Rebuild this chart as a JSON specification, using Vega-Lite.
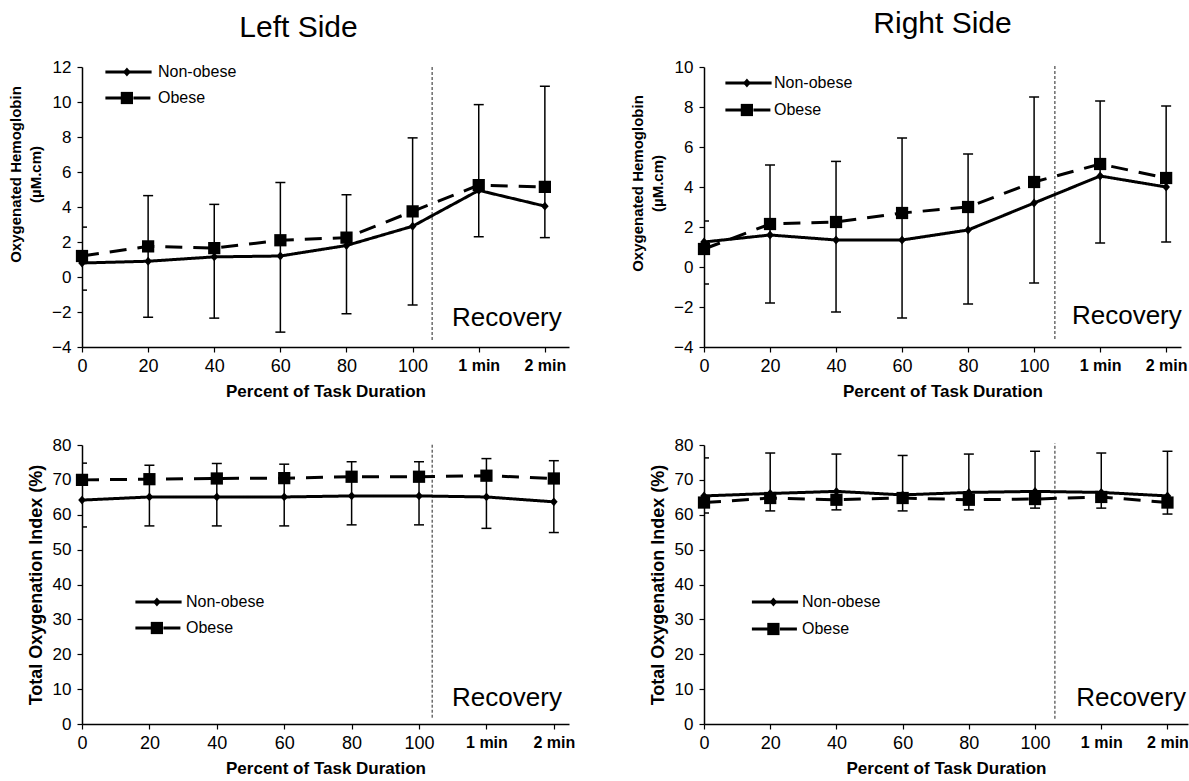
{
  "$schema": "https://vega.github.io/schema/vega-lite/v6.json",
  "padding": {"left": 8, "top": 9, "right": 0, "bottom": 0},
  "background": "white",
  "config": {
    "font": "Liberation Sans",
    "view": {"stroke": null},
    "axis": {"grid": false, "domainColor": "black", "tickColor": "black", "labelColor": "black", "titleColor": "black", "domainWidth": 1.5, "tickWidth": 1.2, "tickSize": 5},
    "legend": {"labelColor": "black"}
  },
  "datasets": {
    "means": [
      {"panel": "TL", "group": "Non-obese", "x": 0, "value": 0.8},
      {"panel": "TL", "group": "Non-obese", "x": 20, "value": 0.9},
      {"panel": "TL", "group": "Non-obese", "x": 40, "value": 1.15},
      {"panel": "TL", "group": "Non-obese", "x": 60, "value": 1.2},
      {"panel": "TL", "group": "Non-obese", "x": 80, "value": 1.8},
      {"panel": "TL", "group": "Non-obese", "x": 100, "value": 2.9},
      {"panel": "TL", "group": "Non-obese", "x": 120, "value": 4.95},
      {"panel": "TL", "group": "Non-obese", "x": 140, "value": 4.05},
      {"panel": "TL", "group": "Obese", "x": 0, "value": 1.2},
      {"panel": "TL", "group": "Obese", "x": 20, "value": 1.75},
      {"panel": "TL", "group": "Obese", "x": 40, "value": 1.65},
      {"panel": "TL", "group": "Obese", "x": 60, "value": 2.1},
      {"panel": "TL", "group": "Obese", "x": 80, "value": 2.25},
      {"panel": "TL", "group": "Obese", "x": 100, "value": 3.75},
      {"panel": "TL", "group": "Obese", "x": 120, "value": 5.25},
      {"panel": "TL", "group": "Obese", "x": 140, "value": 5.15},
      {"panel": "TR", "group": "Non-obese", "x": 0, "value": 1.25},
      {"panel": "TR", "group": "Non-obese", "x": 20, "value": 1.6},
      {"panel": "TR", "group": "Non-obese", "x": 40, "value": 1.35},
      {"panel": "TR", "group": "Non-obese", "x": 60, "value": 1.35},
      {"panel": "TR", "group": "Non-obese", "x": 80, "value": 1.85},
      {"panel": "TR", "group": "Non-obese", "x": 100, "value": 3.2},
      {"panel": "TR", "group": "Non-obese", "x": 120, "value": 4.55},
      {"panel": "TR", "group": "Non-obese", "x": 140, "value": 4.0},
      {"panel": "TR", "group": "Obese", "x": 0, "value": 0.9},
      {"panel": "TR", "group": "Obese", "x": 20, "value": 2.15},
      {"panel": "TR", "group": "Obese", "x": 40, "value": 2.25},
      {"panel": "TR", "group": "Obese", "x": 60, "value": 2.7},
      {"panel": "TR", "group": "Obese", "x": 80, "value": 3.0},
      {"panel": "TR", "group": "Obese", "x": 100, "value": 4.25},
      {"panel": "TR", "group": "Obese", "x": 120, "value": 5.15},
      {"panel": "TR", "group": "Obese", "x": 140, "value": 4.45},
      {"panel": "BL", "group": "Non-obese", "x": 0, "value": 64.2},
      {"panel": "BL", "group": "Non-obese", "x": 20, "value": 65.1},
      {"panel": "BL", "group": "Non-obese", "x": 40, "value": 65.1},
      {"panel": "BL", "group": "Non-obese", "x": 60, "value": 65.1},
      {"panel": "BL", "group": "Non-obese", "x": 80, "value": 65.4},
      {"panel": "BL", "group": "Non-obese", "x": 100, "value": 65.4},
      {"panel": "BL", "group": "Non-obese", "x": 120, "value": 65.1},
      {"panel": "BL", "group": "Non-obese", "x": 140, "value": 63.7},
      {"panel": "BL", "group": "Obese", "x": 0, "value": 70.0},
      {"panel": "BL", "group": "Obese", "x": 20, "value": 70.2},
      {"panel": "BL", "group": "Obese", "x": 40, "value": 70.4},
      {"panel": "BL", "group": "Obese", "x": 60, "value": 70.5},
      {"panel": "BL", "group": "Obese", "x": 80, "value": 70.9},
      {"panel": "BL", "group": "Obese", "x": 100, "value": 70.9},
      {"panel": "BL", "group": "Obese", "x": 120, "value": 71.2},
      {"panel": "BL", "group": "Obese", "x": 140, "value": 70.4},
      {"panel": "BR", "group": "Non-obese", "x": 0, "value": 65.4},
      {"panel": "BR", "group": "Non-obese", "x": 20, "value": 66.1},
      {"panel": "BR", "group": "Non-obese", "x": 40, "value": 66.7},
      {"panel": "BR", "group": "Non-obese", "x": 60, "value": 65.7},
      {"panel": "BR", "group": "Non-obese", "x": 80, "value": 66.4},
      {"panel": "BR", "group": "Non-obese", "x": 100, "value": 66.7},
      {"panel": "BR", "group": "Non-obese", "x": 120, "value": 66.4},
      {"panel": "BR", "group": "Non-obese", "x": 140, "value": 65.4},
      {"panel": "BR", "group": "Obese", "x": 0, "value": 63.5},
      {"panel": "BR", "group": "Obese", "x": 20, "value": 64.8},
      {"panel": "BR", "group": "Obese", "x": 40, "value": 64.3},
      {"panel": "BR", "group": "Obese", "x": 60, "value": 64.8},
      {"panel": "BR", "group": "Obese", "x": 80, "value": 64.3},
      {"panel": "BR", "group": "Obese", "x": 100, "value": 64.5},
      {"panel": "BR", "group": "Obese", "x": 120, "value": 65.1},
      {"panel": "BR", "group": "Obese", "x": 140, "value": 63.5}
    ],
    "errs": [
      {"panel": "TL", "x": 0, "value": -0.75}, {"panel": "TL", "x": 0, "value": 2.85},
      {"panel": "TL", "x": 20, "value": -2.3}, {"panel": "TL", "x": 20, "value": 4.65},
      {"panel": "TL", "x": 40, "value": -2.35}, {"panel": "TL", "x": 40, "value": 4.15},
      {"panel": "TL", "x": 60, "value": -3.15}, {"panel": "TL", "x": 60, "value": 5.4},
      {"panel": "TL", "x": 80, "value": -2.1}, {"panel": "TL", "x": 80, "value": 4.7},
      {"panel": "TL", "x": 100, "value": -1.6}, {"panel": "TL", "x": 100, "value": 7.95},
      {"panel": "TL", "x": 120, "value": 2.3}, {"panel": "TL", "x": 120, "value": 9.85},
      {"panel": "TL", "x": 140, "value": 2.25}, {"panel": "TL", "x": 140, "value": 10.9},
      {"panel": "TR", "x": 0, "value": -0.85}, {"panel": "TR", "x": 0, "value": 2.3},
      {"panel": "TR", "x": 20, "value": -1.8}, {"panel": "TR", "x": 20, "value": 5.1},
      {"panel": "TR", "x": 40, "value": -2.25}, {"panel": "TR", "x": 40, "value": 5.28},
      {"panel": "TR", "x": 60, "value": -2.55}, {"panel": "TR", "x": 60, "value": 6.45},
      {"panel": "TR", "x": 80, "value": -1.85}, {"panel": "TR", "x": 80, "value": 5.65},
      {"panel": "TR", "x": 100, "value": -0.8}, {"panel": "TR", "x": 100, "value": 8.5},
      {"panel": "TR", "x": 120, "value": 1.2}, {"panel": "TR", "x": 120, "value": 8.3},
      {"panel": "TR", "x": 140, "value": 1.25}, {"panel": "TR", "x": 140, "value": 8.05},
      {"panel": "BL", "x": 0, "value": 56.5}, {"panel": "BL", "x": 0, "value": 74.8},
      {"panel": "BL", "x": 20, "value": 56.8}, {"panel": "BL", "x": 20, "value": 74.2},
      {"panel": "BL", "x": 40, "value": 56.8}, {"panel": "BL", "x": 40, "value": 74.7},
      {"panel": "BL", "x": 60, "value": 56.8}, {"panel": "BL", "x": 60, "value": 74.5},
      {"panel": "BL", "x": 80, "value": 57.1}, {"panel": "BL", "x": 80, "value": 75.2},
      {"panel": "BL", "x": 100, "value": 57.1}, {"panel": "BL", "x": 100, "value": 75.2},
      {"panel": "BL", "x": 120, "value": 56.1}, {"panel": "BL", "x": 120, "value": 76.1},
      {"panel": "BL", "x": 140, "value": 54.9}, {"panel": "BL", "x": 140, "value": 75.5},
      {"panel": "BR", "x": 0, "value": 60.5}, {"panel": "BR", "x": 0, "value": 76.3},
      {"panel": "BR", "x": 20, "value": 61.1}, {"panel": "BR", "x": 20, "value": 77.7},
      {"panel": "BR", "x": 40, "value": 61.4}, {"panel": "BR", "x": 40, "value": 77.4},
      {"panel": "BR", "x": 60, "value": 61.1}, {"panel": "BR", "x": 60, "value": 77.0},
      {"panel": "BR", "x": 80, "value": 61.4}, {"panel": "BR", "x": 80, "value": 77.4},
      {"panel": "BR", "x": 100, "value": 61.9}, {"panel": "BR", "x": 100, "value": 78.2},
      {"panel": "BR", "x": 120, "value": 61.9}, {"panel": "BR", "x": 120, "value": 77.7},
      {"panel": "BR", "x": 140, "value": 60.2}, {"panel": "BR", "x": 140, "value": 78.2}
    ],
    "seps": [
      {"panel": "TL", "x": 105.9, "value": -3.6}, {"panel": "TL", "x": 105.9, "value": 12.1},
      {"panel": "TR", "x": 106.3, "value": -3.6}, {"panel": "TR", "x": 106.3, "value": 10.1},
      {"panel": "BL", "x": 103.9, "value": 1.8}, {"panel": "BL", "x": 103.9, "value": 80.5},
      {"panel": "BR", "x": 106.0, "value": 1.5}, {"panel": "BR", "x": 106.0, "value": 80.5}
    ],
    "notes": [
      {"panel": "TL", "x": 128.5, "value": -2.35, "label": "Recovery"},
      {"panel": "TR", "x": 128.1, "value": -2.44, "label": "Recovery"},
      {"panel": "BL", "x": 126.1, "value": 7.5, "label": "Recovery"},
      {"panel": "BR", "x": 129.0, "value": 7.5, "label": "Recovery"}
    ]
  },
  "resolve": {"scale": {"shape": "independent", "strokeDash": "independent"}, "legend": {"shape": "independent", "strokeDash": "independent"}},
  "spacing": 37,
  "vconcat": [
    {
      "resolve": {"scale": {"shape": "independent", "strokeDash": "independent"}, "legend": {"shape": "independent", "strokeDash": "independent"}},
      "spacing": 61,
      "hconcat": [
        {
          "width": 487, "height": 280,
          "title": {"text": "Left Side", "fontSize": 30, "fontWeight": "normal", "color": "black", "dx": -27, "offset": -9, "baseline": "alphabetic"},
          "encoding": {
            "x": {"field": "x", "type": "quantitative", "scale": {"domain": [0, 147.3], "nice": false, "zero": false},
                  "axis": {"values": [0, 20, 40, 60, 80, 100, 120, 140], "title": "Percent of Task Duration", "titleFontWeight": "bold", "titleFontSize": 17, "titlePadding": 8,
                           "labelExpr": "datum.value == 120 ? '1 min' : datum.value == 140 ? '2 min' : datum.label",
                           "labelFontWeight": {"condition": {"test": "datum.value > 100", "value": "bold"}, "value": "normal"},
                           "labelFontSize": {"condition": {"test": "datum.value > 100", "value": 16}, "value": 18},
                           "labelPadding": 5, "labelFlush": false}},
            "y": {"field": "value", "type": "quantitative", "scale": {"domain": [-4, 12], "nice": false},
                  "axis": {"values": [-4, -2, 0, 2, 4, 6, 8, 10, 12], "title": ["Oxygenated Hemoglobin", "(µM.cm)"], "titleFontWeight": "bold", "titleFontSize": 15, "titleLineHeight": 20, "titleY": 107, "titlePadding": 8, "labelFontSize": 17, "labelPadding": 6}}
          },
          "layer": [
            {"data": {"name": "seps"}, "transform": [{"filter": "datum.panel === 'TL'"}],
             "mark": {"type": "line", "strokeDash": [3, 2], "strokeWidth": 1, "color": "#222"}, "encoding": {}},
            {"data": {"name": "errs"}, "transform": [{"filter": "datum.panel === 'TL'"}],
             "mark": {"type": "line", "color": "black", "strokeWidth": 1.5, "clip": true},
             "encoding": {"detail": {"field": "x", "type": "nominal"}}},
            {"data": {"name": "errs"}, "transform": [{"filter": "datum.panel === 'TL'"}],
             "mark": {"type": "tick", "orient": "horizontal", "color": "black", "thickness": 1.5, "size": 10, "opacity": 1, "clip": true}},
            {"data": {"name": "means"}, "transform": [{"filter": "datum.panel === 'TL'"}],
             "mark": {"type": "line", "color": "black", "strokeWidth": 3},
             "encoding": {
               "strokeDash": {"field": "group", "type": "nominal", "scale": {"range": [[1, 0], [17, 11]]},
                              "legend": {"orient": "none", "legendX": 38.5, "legendY": -3, "title": null, "symbolType": "M-7.7,0L7.7,0", "symbolSize": 36, "symbolStrokeWidth": 3, "symbolStrokeColor": "black", "labelFontSize": 16, "labelOffset": 21.5, "rowPadding": 10, "padding": 0}}
             }},
            {"data": {"name": "means"}, "transform": [{"filter": "datum.panel === 'TL'"}],
             "mark": {"type": "point", "filled": true, "color": "black", "opacity": 1, "size": 150},
             "encoding": {
               "shape": {"field": "group", "type": "nominal", "scale": {"domain": ["Non-obese", "Obese"], "range": ["M0,-0.72L0.62,0L0,0.72L-0.62,0Z", "M-1,-1L1,-1L1,1L-1,1Z"]},
                         "legend": {"orient": "none", "legendX": 36.9, "legendY": -3, "title": null, "symbolSize": 150, "symbolFillColor": "black", "symbolStrokeColor": "black", "symbolStrokeWidth": 0, "symbolOpacity": 1, "labelFontSize": 16, "labelOpacity": 0, "rowPadding": 10, "padding": 0}}
             }},
            {"data": {"name": "notes"}, "transform": [{"filter": "datum.panel === 'TL'"}],
             "mark": {"type": "text", "fontSize": 26, "align": "center", "baseline": "middle", "color": "black"},
             "encoding": {"text": {"field": "label"}}}
          ]
        },
        {
          "width": 477, "height": 280,
          "title": {"text": "Right Side", "fontSize": 30, "fontWeight": "normal", "color": "black", "dx": 0, "offset": -5, "baseline": "alphabetic"},
          "encoding": {
            "x": {"field": "x", "type": "quantitative", "scale": {"domain": [0, 144.5], "nice": false, "zero": false},
                  "axis": {"values": [0, 20, 40, 60, 80, 100, 120, 140], "title": "Percent of Task Duration", "titleFontWeight": "bold", "titleFontSize": 17, "titlePadding": 8,
                           "labelExpr": "datum.value == 120 ? '1 min' : datum.value == 140 ? '2 min' : datum.label",
                           "labelFontWeight": {"condition": {"test": "datum.value > 100", "value": "bold"}, "value": "normal"},
                           "labelFontSize": {"condition": {"test": "datum.value > 100", "value": 16}, "value": 18},
                           "labelPadding": 5, "labelFlush": false}},
            "y": {"field": "value", "type": "quantitative", "scale": {"domain": [-4, 10], "nice": false},
                  "axis": {"values": [-4, -2, 0, 2, 4, 6, 8, 10], "title": ["Oxygenated Hemoglobin", "(µM.cm)"], "titleFontWeight": "bold", "titleFontSize": 15, "titleLineHeight": 20, "titleY": 116, "titlePadding": 8, "labelFontSize": 17, "labelPadding": 6}}
          },
          "layer": [
            {"data": {"name": "seps"}, "transform": [{"filter": "datum.panel === 'TR'"}],
             "mark": {"type": "line", "strokeDash": [3, 2], "strokeWidth": 1, "color": "#222"}, "encoding": {}},
            {"data": {"name": "errs"}, "transform": [{"filter": "datum.panel === 'TR'"}],
             "mark": {"type": "line", "color": "black", "strokeWidth": 1.5, "clip": true},
             "encoding": {"detail": {"field": "x", "type": "nominal"}}},
            {"data": {"name": "errs"}, "transform": [{"filter": "datum.panel === 'TR'"}],
             "mark": {"type": "tick", "orient": "horizontal", "color": "black", "thickness": 1.5, "size": 10, "opacity": 1, "clip": true}},
            {"data": {"name": "means"}, "transform": [{"filter": "datum.panel === 'TR'"}],
             "mark": {"type": "line", "color": "black", "strokeWidth": 3},
             "encoding": {
               "strokeDash": {"field": "group", "type": "nominal", "scale": {"range": [[1, 0], [17, 11]]},
                              "legend": {"orient": "none", "legendX": 36.5, "legendY": 8, "title": null, "symbolType": "M-7.7,0L7.7,0", "symbolSize": 36, "symbolStrokeWidth": 3, "symbolStrokeColor": "black", "labelFontSize": 16, "labelOffset": 17.5, "rowPadding": 11, "padding": 0}}
             }},
            {"data": {"name": "means"}, "transform": [{"filter": "datum.panel === 'TR'"}],
             "mark": {"type": "point", "filled": true, "color": "black", "opacity": 1, "size": 150},
             "encoding": {
               "shape": {"field": "group", "type": "nominal", "scale": {"domain": ["Non-obese", "Obese"], "range": ["M0,-0.72L0.62,0L0,0.72L-0.62,0Z", "M-1,-1L1,-1L1,1L-1,1Z"]},
                         "legend": {"orient": "none", "legendX": 34.9, "legendY": 8, "title": null, "symbolSize": 150, "symbolFillColor": "black", "symbolStrokeColor": "black", "symbolStrokeWidth": 0, "symbolOpacity": 1, "labelFontSize": 16, "labelOpacity": 0, "rowPadding": 11, "padding": 0}}
             }},
            {"data": {"name": "notes"}, "transform": [{"filter": "datum.panel === 'TR'"}],
             "mark": {"type": "text", "fontSize": 26, "align": "center", "baseline": "middle", "color": "black"},
             "encoding": {"text": {"field": "label"}}}
          ]
        }
      ]
    },
    {
      "resolve": {"scale": {"shape": "independent", "strokeDash": "independent"}, "legend": {"shape": "independent", "strokeDash": "independent"}},
      "spacing": 74,
      "hconcat": [
        {
          "width": 487, "height": 279,
          "encoding": {
            "x": {"field": "x", "type": "quantitative", "scale": {"domain": [0, 144.5], "nice": false, "zero": false},
                  "axis": {"values": [0, 20, 40, 60, 80, 100, 120, 140], "title": "Percent of Task Duration", "titleFontWeight": "bold", "titleFontSize": 17, "titlePadding": 8,
                           "labelExpr": "datum.value == 120 ? '1 min' : datum.value == 140 ? '2 min' : datum.label",
                           "labelFontWeight": {"condition": {"test": "datum.value > 100", "value": "bold"}, "value": "normal"},
                           "labelFontSize": {"condition": {"test": "datum.value > 100", "value": 16}, "value": 18},
                           "labelPadding": 5, "labelFlush": false}},
            "y": {"field": "value", "type": "quantitative", "scale": {"domain": [0, 80], "nice": false},
                  "axis": {"values": [0, 10, 20, 30, 40, 50, 60, 70, 80], "title": "Total Oxygenation Index (%)", "titleFontWeight": "bold", "titleFontSize": 18, "titlePadding": 7, "labelFontSize": 17, "labelPadding": 6}}
          },
          "layer": [
            {"data": {"name": "seps"}, "transform": [{"filter": "datum.panel === 'BL'"}],
             "mark": {"type": "line", "strokeDash": [3, 2], "strokeWidth": 1, "color": "#222"}, "encoding": {}},
            {"data": {"name": "errs"}, "transform": [{"filter": "datum.panel === 'BL'"}],
             "mark": {"type": "line", "color": "black", "strokeWidth": 1.5, "clip": true},
             "encoding": {"detail": {"field": "x", "type": "nominal"}}},
            {"data": {"name": "errs"}, "transform": [{"filter": "datum.panel === 'BL'"}],
             "mark": {"type": "tick", "orient": "horizontal", "color": "black", "thickness": 1.5, "size": 10, "opacity": 1, "clip": true}},
            {"data": {"name": "means"}, "transform": [{"filter": "datum.panel === 'BL'"}],
             "mark": {"type": "line", "color": "black", "strokeWidth": 3},
             "encoding": {
               "strokeDash": {"field": "group", "type": "nominal", "scale": {"range": [[1, 0], [17, 11]]},
                              "legend": {"orient": "none", "legendX": 68.5, "legendY": 149, "title": null, "symbolType": "M-7.7,0L7.7,0", "symbolSize": 36, "symbolStrokeWidth": 3, "symbolStrokeColor": "black", "labelFontSize": 16, "labelOffset": 19.5, "rowPadding": 10, "padding": 0}}
             }},
            {"data": {"name": "means"}, "transform": [{"filter": "datum.panel === 'BL'"}],
             "mark": {"type": "point", "filled": true, "color": "black", "opacity": 1, "size": 150},
             "encoding": {
               "shape": {"field": "group", "type": "nominal", "scale": {"domain": ["Non-obese", "Obese"], "range": ["M0,-0.72L0.62,0L0,0.72L-0.62,0Z", "M-1,-1L1,-1L1,1L-1,1Z"]},
                         "legend": {"orient": "none", "legendX": 66.9, "legendY": 149, "title": null, "symbolSize": 150, "symbolFillColor": "black", "symbolStrokeColor": "black", "symbolStrokeWidth": 0, "symbolOpacity": 1, "labelFontSize": 16, "labelOpacity": 0, "rowPadding": 10, "padding": 0}}
             }},
            {"data": {"name": "notes"}, "transform": [{"filter": "datum.panel === 'BL'"}],
             "mark": {"type": "text", "fontSize": 26, "align": "center", "baseline": "middle", "color": "black"},
             "encoding": {"text": {"field": "label"}}}
          ]
        },
        {
          "width": 484, "height": 279,
          "encoding": {
            "x": {"field": "x", "type": "quantitative", "scale": {"domain": [0, 146.2], "nice": false, "zero": false},
                  "axis": {"values": [0, 20, 40, 60, 80, 100, 120, 140], "title": "Percent of Task Duration", "titleFontWeight": "bold", "titleFontSize": 17, "titlePadding": 8,
                           "labelExpr": "datum.value == 120 ? '1 min' : datum.value == 140 ? '2 min' : datum.label",
                           "labelFontWeight": {"condition": {"test": "datum.value > 100", "value": "bold"}, "value": "normal"},
                           "labelFontSize": {"condition": {"test": "datum.value > 100", "value": 16}, "value": 18},
                           "labelPadding": 5, "labelFlush": false}},
            "y": {"field": "value", "type": "quantitative", "scale": {"domain": [0, 80], "nice": false},
                  "axis": {"values": [0, 10, 20, 30, 40, 50, 60, 70, 80], "title": "Total Oxygenation Index (%)", "titleFontWeight": "bold", "titleFontSize": 18, "titlePadding": 7, "labelFontSize": 17, "labelPadding": 6}}
          },
          "layer": [
            {"data": {"name": "seps"}, "transform": [{"filter": "datum.panel === 'BR'"}],
             "mark": {"type": "line", "strokeDash": [3, 2], "strokeWidth": 1, "color": "#222"}, "encoding": {}},
            {"data": {"name": "errs"}, "transform": [{"filter": "datum.panel === 'BR'"}],
             "mark": {"type": "line", "color": "black", "strokeWidth": 1.5, "clip": true},
             "encoding": {"detail": {"field": "x", "type": "nominal"}}},
            {"data": {"name": "errs"}, "transform": [{"filter": "datum.panel === 'BR'"}],
             "mark": {"type": "tick", "orient": "horizontal", "color": "black", "thickness": 1.5, "size": 10, "opacity": 1, "clip": true}},
            {"data": {"name": "means"}, "transform": [{"filter": "datum.panel === 'BR'"}],
             "mark": {"type": "line", "color": "black", "strokeWidth": 3},
             "encoding": {
               "strokeDash": {"field": "group", "type": "nominal", "scale": {"range": [[1, 0], [17, 11]]},
                              "legend": {"orient": "none", "legendX": 63, "legendY": 149, "title": null, "symbolType": "M-7.7,0L7.7,0", "symbolSize": 36, "symbolStrokeWidth": 3, "symbolStrokeColor": "black", "labelFontSize": 16, "labelOffset": 19, "rowPadding": 11, "padding": 0}}
             }},
            {"data": {"name": "means"}, "transform": [{"filter": "datum.panel === 'BR'"}],
             "mark": {"type": "point", "filled": true, "color": "black", "opacity": 1, "size": 150},
             "encoding": {
               "shape": {"field": "group", "type": "nominal", "scale": {"domain": ["Non-obese", "Obese"], "range": ["M0,-0.72L0.62,0L0,0.72L-0.62,0Z", "M-1,-1L1,-1L1,1L-1,1Z"]},
                         "legend": {"orient": "none", "legendX": 61.4, "legendY": 149, "title": null, "symbolSize": 150, "symbolFillColor": "black", "symbolStrokeColor": "black", "symbolStrokeWidth": 0, "symbolOpacity": 1, "labelFontSize": 16, "labelOpacity": 0, "rowPadding": 11, "padding": 0}}
             }},
            {"data": {"name": "notes"}, "transform": [{"filter": "datum.panel === 'BR'"}],
             "mark": {"type": "text", "fontSize": 26, "align": "center", "baseline": "middle", "color": "black"},
             "encoding": {"text": {"field": "label"}}}
          ]
        }
      ]
    }
  ]
}
